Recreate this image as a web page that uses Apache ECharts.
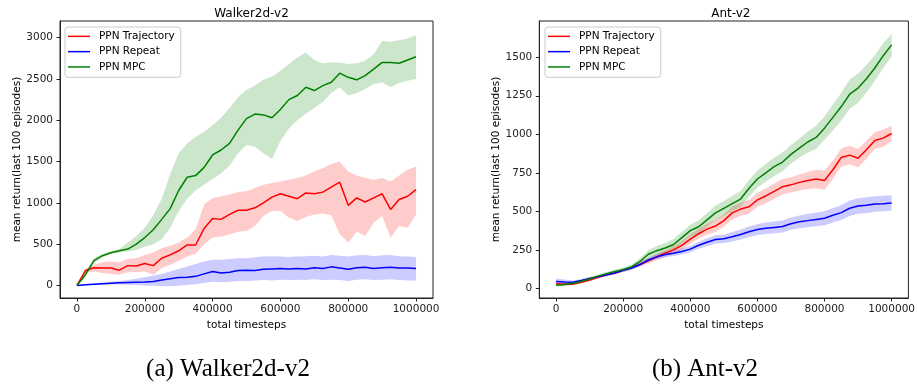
<!DOCTYPE html>
<html><head><meta charset="utf-8">
<script src="https://cdn.jsdelivr.net/npm/echarts@6/dist/echarts.min.js"></script>
<style>html,body{margin:0;padding:0;background:#fff}#c{width:918px;height:385px}</style>
</head><body><div id="c"></div>
<script>
const T = [0,25000,50000,75000,100000,125000,150000,175000,200000,225000,250000,275000,300000,325000,350000,375000,400000,425000,450000,475000,500000,525000,550000,575000,600000,625000,650000,675000,700000,725000,750000,775000,800000,825000,850000,875000,900000,925000,950000,975000,1000000];
const xTicks = [0,200000,400000,600000,800000,1000000];
const walkerYTicks = [0,500,1000,1500,2000,2500,3000];
const antYTicks = [0,250,500,750,1000,1250,1500];
const seriesNames = ['PPN Trajectory','PPN Repeat','PPN MPC'];

// Walker2d-v2
const walkerTraj = [0,180,215,210,210,185,240,235,265,240,330,370,420,490,490,690,810,800,860,910,910,940,1000,1070,1110,1080,1050,1120,1110,1130,1190,1250,970,1060,1010,1060,1110,920,1040,1080,1160];
const walkerTrajHi = [0,200,250,280,290,280,320,330,370,400,450,480,520,580,680,980,1060,1080,1100,1130,1140,1180,1220,1240,1260,1280,1300,1330,1380,1420,1470,1500,1380,1330,1300,1280,1300,1260,1330,1400,1440];
const walkerTrajLo = [0,150,170,150,140,130,160,160,170,130,210,250,300,350,380,500,580,590,620,650,660,720,840,900,900,820,780,830,860,870,850,620,520,650,600,760,840,580,720,700,860];
const walkerRep = [0,8,15,22,28,32,36,40,42,48,65,80,95,100,110,140,170,150,160,180,185,180,195,200,205,200,205,200,215,205,225,210,195,215,220,205,215,220,210,210,205];
const walkerRepHi = [0,15,25,35,45,55,65,80,100,120,140,170,200,230,260,290,310,310,320,330,330,340,350,355,350,345,350,355,360,350,370,360,350,365,370,355,365,370,355,350,345];
const walkerRepLo = [0,2,5,8,10,10,8,5,0,-5,-8,-10,-5,5,15,30,45,40,45,55,55,60,65,60,70,65,70,65,75,65,70,65,55,70,75,65,70,75,65,60,60];
const walkerMpc = [0,130,300,360,395,420,440,500,580,675,800,930,1150,1310,1330,1430,1580,1640,1720,1880,2020,2075,2065,2030,2130,2250,2300,2400,2360,2420,2460,2570,2520,2490,2540,2620,2700,2700,2690,2730,2770];
const walkerMpcHi = [0,150,330,380,410,440,520,600,700,850,1050,1350,1600,1720,1800,1860,1940,2030,2150,2280,2370,2420,2490,2530,2600,2680,2760,2820,2730,2690,2700,2700,2680,2690,2720,2800,2960,2950,2970,2990,3030];
const walkerMpcLo = [0,110,270,340,380,400,410,430,470,500,560,700,900,1050,1150,1220,1290,1360,1450,1600,1700,1680,1600,1530,1750,1900,2000,2080,2150,2220,2330,2400,2300,2330,2380,2440,2460,2400,2450,2480,2500];

// Ant-v2
const antTraj = [30,27,28,40,55,72,88,100,118,135,155,180,205,228,250,280,320,355,385,405,440,490,515,530,575,600,630,660,672,688,700,710,700,770,850,865,845,900,960,975,1005];
const antTrajHi = [40,36,36,48,63,80,97,110,128,146,168,196,225,250,275,307,350,388,420,445,480,532,558,575,620,648,680,710,722,740,755,770,765,830,910,925,905,958,1015,1030,1055];
const antTrajLo = [20,18,20,32,47,64,79,90,108,124,142,164,185,206,225,253,292,322,350,365,402,448,472,485,530,552,580,610,622,636,645,650,640,710,790,805,785,842,905,920,955];
const antRep = [45,42,40,52,65,75,88,100,118,132,155,185,205,220,228,240,255,280,300,318,322,335,350,368,382,390,396,402,420,432,440,448,455,475,492,520,535,540,548,550,555];
const antRepHi = [65,58,52,62,74,84,98,110,130,145,168,199,220,238,246,260,276,303,326,345,350,366,383,402,417,427,434,441,460,474,483,492,500,522,540,570,585,592,598,602,605];
const antRepLo = [27,28,28,42,56,66,78,90,106,119,142,171,190,202,210,220,234,257,274,291,294,304,317,334,347,353,358,363,380,390,397,404,410,428,444,470,485,488,498,500,505];
const antMpc = [20,25,33,45,62,80,96,110,122,140,175,222,245,262,285,330,375,400,445,490,520,550,580,650,710,750,790,820,870,910,950,980,1040,1110,1180,1260,1300,1360,1430,1510,1580];
const antMpcHi = [30,34,42,55,72,90,106,122,136,156,196,250,276,295,320,368,414,442,490,538,568,600,632,705,765,808,850,882,930,972,1018,1055,1115,1195,1270,1355,1395,1450,1515,1590,1650];
const antMpcLo = [12,16,25,36,52,70,86,98,108,124,154,195,215,230,250,292,336,358,400,442,472,500,528,595,655,692,730,760,810,848,882,905,965,1025,1090,1165,1205,1270,1345,1430,1505];

const COLORS = ['#ff0000','#0000ff','#008000'];
const BANDS = ['rgba(255,0,0,0.2)','rgba(0,0,255,0.2)','rgba(0,128,0,0.2)'];
const FONT = 'DejaVu Sans';

function pairs(a){ return T.map((t,i)=>[t,a[i]]); }
function band(gi, lo, hi, color){
  return {type:'custom', xAxisIndex:gi, yAxisIndex:gi, silent:true, z:1,
    data:T.map((t,i)=>[t, lo[i], hi[i]]),
    encode:{x:0, y:[1,2]},
    renderItem:function(params, api){
      if (params.dataIndex !== 0) return null;
      const top = T.map((t,i)=>api.coord([t, hi[i]]));
      const bot = T.map((t,i)=>api.coord([t, lo[i]])).reverse();
      return {type:'polygon', shape:{points: top.concat(bot)}, style:{fill:color, stroke:null}};
    }};
}
function line(gi, name, arr, color){
  return {type:'line', name:name, xAxisIndex:gi, yAxisIndex:gi, data:pairs(arr), symbol:'none',
    lineStyle:{color:color, width:1.5}, itemStyle:{color:color}, z:3};
}
function xAxis(gi){
  return {type:'value', gridIndex:gi, min:-50000, max:1050000,
    name:'total timesteps', nameLocation:'middle', nameGap:22,
    nameTextStyle:{fontFamily:FONT, fontSize:10.5, color:'#000'},
    axisLine:{show:true, onZero:false, lineStyle:{color:'#222', width:1}},
    axisTick:{show:true, length:3.5, customValues:xTicks, lineStyle:{color:'#222'}},
    axisLabel:{customValues:xTicks, formatter:v=>String(v), fontFamily:FONT, fontSize:10.5, color:'#222', margin:6},
    splitLine:{show:false}};
}
function yAxis(gi, min, max, ticks){
  return {type:'value', gridIndex:gi, min:min, max:max,
    name:'mean return(last 100 episodes)', nameLocation:'middle', nameGap:37,
    nameTextStyle:{fontFamily:FONT, fontSize:10.5, color:'#000'},
    axisLine:{show:true, onZero:false, lineStyle:{color:'#222', width:1}},
    axisTick:{show:true, length:3.5, customValues:ticks, lineStyle:{color:'#222'}},
    axisLabel:{customValues:ticks, formatter:v=>String(v), fontFamily:FONT, fontSize:10.5, color:'#222', margin:7},
    splitLine:{show:false}};
}
function legend(left){
  return {left:left, top:27, orient:'vertical', data:seriesNames, icon:'rect', itemWidth:22, itemHeight:1.5, itemGap:2.6,
    padding:[3,6,4,3], backgroundColor:'#fff', borderColor:'#cccccc', borderWidth:1, borderRadius:3,
    selectedMode:false, textStyle:{fontFamily:FONT, fontSize:10.5, color:'#000', padding:[0,0,0,4], lineHeight:12.7}};
}

const series = [
  band(0, walkerTrajLo, walkerTrajHi, BANDS[0]),
  band(0, walkerRepLo, walkerRepHi, BANDS[1]),
  band(0, walkerMpcLo, walkerMpcHi, BANDS[2]),
  line(0, seriesNames[0], walkerTraj, COLORS[0]),
  line(0, seriesNames[1], walkerRep, COLORS[1]),
  line(0, seriesNames[2], walkerMpc, COLORS[2]),
  band(1, antTrajLo, antTrajHi, BANDS[0]),
  band(1, antRepLo, antRepHi, BANDS[1]),
  band(1, antMpcLo, antMpcHi, BANDS[2]),
  line(1, seriesNames[0], antTraj, COLORS[0]),
  line(1, seriesNames[1], antRep, COLORS[1]),
  line(1, seriesNames[2], antMpc, COLORS[2])
];

const chart = echarts.init(document.getElementById('c'), null, {renderer:'canvas'});
chart.setOption({
  animation:false,
  backgroundColor:'#fff',
  title:[
    {text:'Walker2d-v2', left:246.5, top:3, textAlign:'center', textStyle:{fontFamily:FONT, fontSize:12, fontWeight:'normal', color:'#000'}},
    {text:'Ant-v2', left:725.8, top:3, textAlign:'center', textStyle:{fontFamily:FONT, fontSize:12, fontWeight:'normal', color:'#000'}},
    {text:'(a) Walker2d-v2', left:223, top:352, textAlign:'center', textStyle:{fontFamily:'Liberation Serif', fontSize:25, fontWeight:'normal', color:'#000'}},
    {text:'(b) Ant-v2', left:700, top:352, textAlign:'center', textStyle:{fontFamily:'Liberation Serif', fontSize:25, fontWeight:'normal', color:'#000'}}
  ],
  grid:[
    {left:60, top:21, width:373, height:277, show:true, borderColor:'#222', borderWidth:1, backgroundColor:'transparent'},
    {left:539.3, top:21, width:373, height:277, show:true, borderColor:'#222', borderWidth:1, backgroundColor:'transparent'}
  ],
  legend:[legend(65), legend(545)],
  xAxis:[xAxis(0), xAxis(1)],
  yAxis:[yAxis(0,-152,3202,walkerYTicks), yAxis(1,-62,1735,antYTicks)],
  series:series
});
</script></body></html>
